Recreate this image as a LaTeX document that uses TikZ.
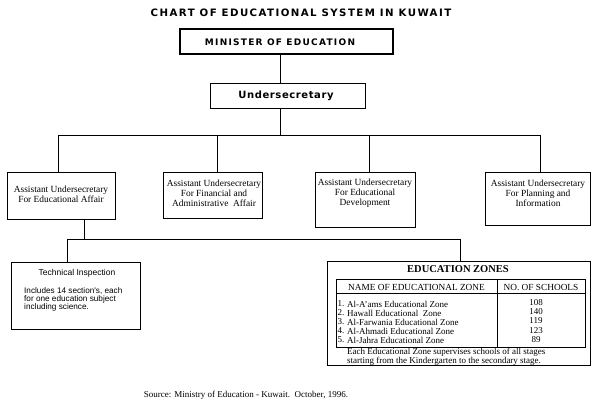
\documentclass[tikz,border=0pt]{standalone}
\usepackage{fontspec}
\setmainfont{Liberation Serif}
\newfontfamily\titlefont[LetterSpace=14]{DejaVu Sans}
\newfontfamily\underfont[LetterSpace=6]{DejaVu Sans}
\newfontfamily\techfont{Liberation Sans}
\begin{document}
\begin{tikzpicture}[x=1pt,y=-1pt]
\tikzset{
  box/.style={draw, line width=0.9pt, inner sep=0pt},
  conn/.style={line width=0.9pt},
  txt/.style={inner sep=0pt},
  btxt/.style={inner sep=0pt, align=center, font=\fontsize{9.4}{10}\selectfont},
  blocktxt/.style={inner sep=0pt, font=\titlefont\bfseries\fontsize{9}{10}\selectfont},
  rowtxt/.style={inner sep=0pt, font=\fontsize{9}{10}\selectfont},
}
\useasboundingbox (0,0) rectangle (600,416);

% title
\node[blocktxt, font=\titlefont\bfseries\fontsize{10.2}{11}\selectfont] (title) at (301,13) {CHART OF EDUCATIONAL SYSTEM IN KUWAIT};

% minister and undersecretary
\node[box, line width=1.3pt, minimum width=213pt, minimum height=25pt] (min) at (286.5,41.5) {};
\node[blocktxt] (mint) at (280,42) {MINISTER OF EDUCATION};
\node[box, minimum width=155pt, minimum height=25pt] (und) at (287.5,95.5) {};
\node[txt, font=\underfont\bfseries\fontsize{10}{11}\selectfont] (undt) at (286,96) {Undersecretary};

% assistant undersecretaries
\node[box, minimum width=108pt, minimum height=47pt] (a1) at (61,195.5) {};
\node[btxt] (a1t) at (61,194) {Assistant Undersecretary\\For Educational Affair};
\node[box, minimum width=99pt, minimum height=46pt] (a2) at (212.5,195) {};
\node[btxt] (a2t) at (214,193) {Assistant Undersecretary\\For Financial and\\Administrative\ \ Affair};
\node[box, minimum width=100pt, minimum height=55pt] (a3) at (365,199.5) {};
\node[btxt] (a3t) at (365,193) {Assistant Undersecretary\\For Educational\\Development};
\node[box, minimum width=105pt, minimum height=53pt] (a4) at (537.5,198.5) {};
\node[btxt] (a4t) at (538,193) {Assistant Undersecretary\\For Planning and\\Information};

% connectors top
\coordinate (bar) at (280,135);
\coordinate (j1) at (58,135);
\coordinate (j2) at (217,135);
\coordinate (j3) at (369,135);
\coordinate (j4) at (540,135);
\draw[conn] (min.south -| bar) -- (und.north -| bar);
\draw[conn] (und.south -| bar) -- (bar);
\draw[conn] (j1) -- (j4);
\draw[conn] (j1) -- (j1 |- a1.north);
\draw[conn] (j2) -- (j2 |- a2.north);
\draw[conn] (j3) -- (j3 |- a3.north);
\draw[conn] (j4) -- (j4 |- a4.north);

% lower boxes
\node[box, minimum width=129pt, minimum height=67pt] (tech) at (75.5,295.5) {};
\node[txt, font=\techfont\fontsize{8.5}{8.5}\selectfont] (techt) at (77,273) {Technical Inspection};
\node[txt, anchor=north west, align=left, font=\techfont\fontsize{8.2}{8}\selectfont] (techb) at (24,287.5) {Includes 14 section's, each\\for one education subject\\including science.};

\node[box, minimum width=263pt, minimum height=104pt] (zones) at (458.5,313) {};
\node[txt, font=\bfseries\fontsize{10.5}{11}\selectfont] (zt) at (458,269.5) {EDUCATION ZONES};
\node[draw, line width=0.7pt, inner sep=0pt, minimum width=249pt, minimum height=68pt] (tab) at (460.5,313) {};
\coordinate (hl) at (0,293);
\coordinate (cd) at (497,0);
\draw[line width=0.7pt] (tab.west |- hl) -- (tab.east |- hl);
\draw[line width=0.7pt] (tab.north -| cd) -- (tab.south -| cd);
\node[txt, font=\fontsize{9.3}{10}\selectfont] (h1) at (416.5,287) {NAME OF EDUCATIONAL ZONE};
\node[txt, font=\fontsize{9.3}{10}\selectfont] (h2) at (541,287) {NO. OF SCHOOLS};

\node[rowtxt] (n1) at (341,304) {1.};
\node[rowtxt, anchor=west] (r1) at (347,304) {Al-A'ams Educational Zone};
\node[rowtxt] (c1) at (536,303) {108};
\node[rowtxt] (n2) at (341,313) {2.};
\node[rowtxt, anchor=west] (r2) at (347,313) {Hawall Educational\ \ Zone};
\node[rowtxt] (c2) at (536,312) {140};
\node[rowtxt] (n3) at (341,322) {3.};
\node[rowtxt, anchor=west] (r3) at (347,322) {Al-Farwania Educational Zone};
\node[rowtxt] (c3) at (536,321) {119};
\node[rowtxt] (n4) at (341,331) {4.};
\node[rowtxt, anchor=west] (r4) at (347,331) {Al-Ahmadi Educational Zone};
\node[rowtxt] (c4) at (536,331) {123};
\node[rowtxt] (n5) at (341,340) {5.};
\node[rowtxt, anchor=west] (r5) at (347,340) {Al-Jahra Educational Zone};
\node[rowtxt] (c5) at (536,340) {89};

\node[txt, anchor=west, align=left, font=\fontsize{9}{7.5}\selectfont] (foot) at (347,356.5) {Each Educational Zone supervises schools of all stages\\starting from the Kindergarten to the secondary stage.};

% sub connectors
\coordinate (k0) at (84,239);
\coordinate (k1) at (67,239);
\coordinate (k2) at (460,239);
\draw[conn] (a1.south -| k0) -- (k0);
\draw[conn] (k1) -- (k2);
\draw[conn] (k1) -- (k1 |- tech.north);
\draw[conn] (k2) -- (k2 |- zones.north);

% source
\node[rowtxt] (src) at (246,395) {Source: Ministry of Education - Kuwait.\ \ October, 1996.};
\end{tikzpicture}
\end{document}
